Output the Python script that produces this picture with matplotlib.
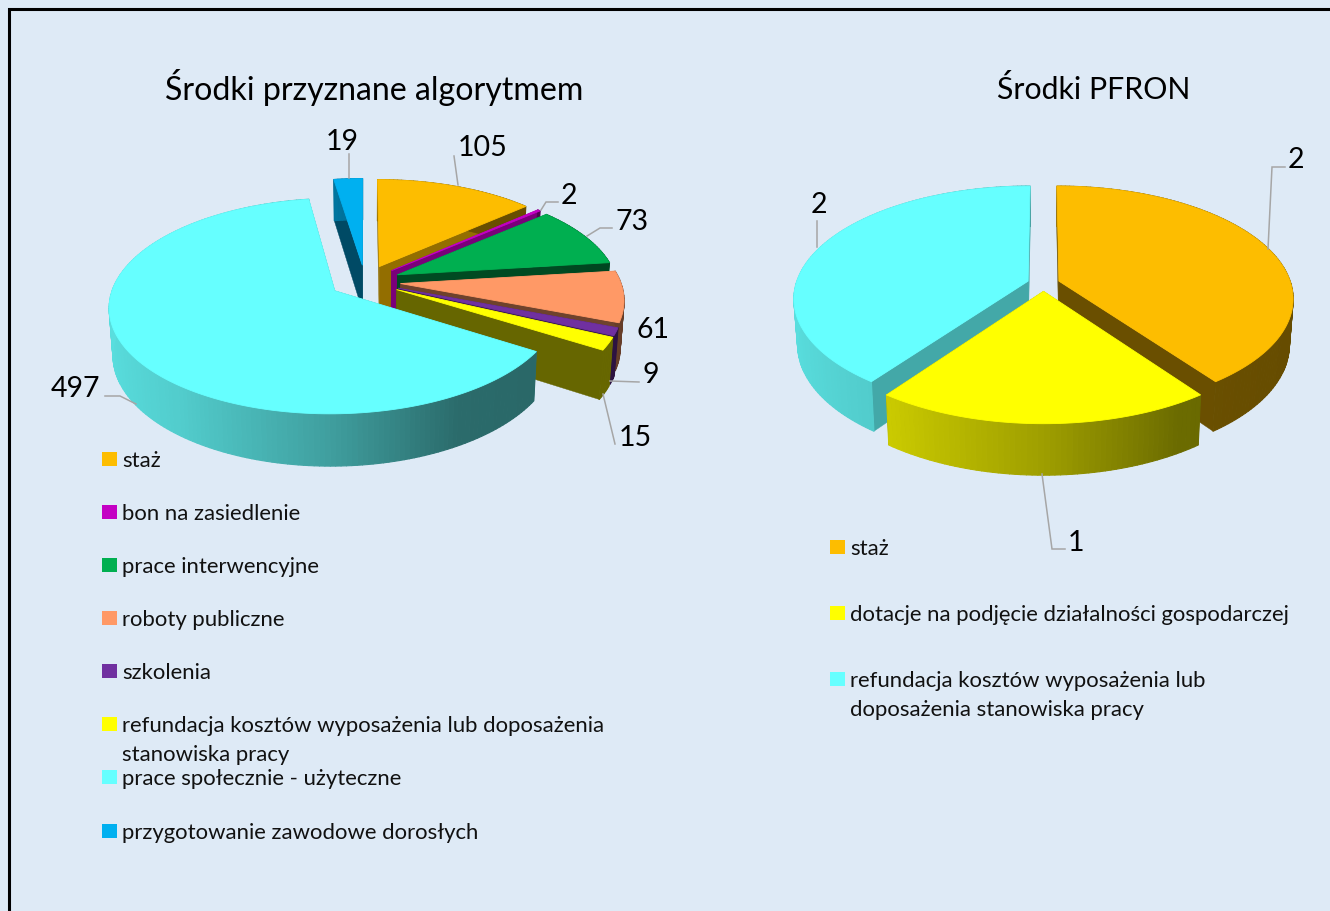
import numpy as np
import matplotlib
matplotlib.use("Agg")
import matplotlib.pyplot as plt
from matplotlib.collections import PolyCollection
from matplotlib.patches import Rectangle

plt.rcParams['font.family'] = ['Lato', 'DejaVu Sans']

BG = '#DEEAF6'
LEADER = '#A6A6A6'

# ---- data ----
left_title = 'Środki przyznane algorytmem'
left_categories = ['staż', 'bon na zasiedlenie', 'prace interwencyjne', 'roboty publiczne',
                   'szkolenia', 'refundacja kosztów wyposażenia lub doposażenia\nstanowiska pracy',
                   'prace społecznie - użyteczne', 'przygotowanie zawodowe dorosłych']
left_values = [105, 2, 73, 61, 9, 15, 497, 19]
left_colors = ['#FDBD00', '#C400C4', '#00AF50', '#FF9966', '#7030A0', '#FFFF00', '#66FFFF', '#00B0F0']
left_face_shade = [0.58, 0.62, 0.42, 0.43, 0.5, 0.4, 0.5, 0.42]

right_title = 'Środki PFRON'
right_categories = ['staż', 'dotacje na podjęcie działalności gospodarczej',
                    'refundacja kosztów wyposażenia lub\ndoposażenia stanowiska pracy']
right_values = [2, 1, 2]
right_colors = ['#FDBD00', '#FFFF00', '#66FFFF']
right_face_shade = [0.42, 0.4, 0.66]

# value label: text position and leader path, in figure pixels
left_labels = [((483, 148.5), [(454, 157), (458, 186)]),
               ((569, 196.5), [(541, 211), (546, 203), (558, 203)]),
               ((632, 222.5), [(587, 237), (600, 229), (612, 229)]),
               ((653, 330.5), None),
               ((651, 375.5), [(610, 382), (639, 383)]),
               ((635, 438.5), [(603, 395), (615, 445)]),
               ((75, 389.5), [(105, 397), (120, 397), (136, 405)]),
               ((342, 141.5), [(349, 155), (349, 179)])]
right_labels = [((1296, 160.5), [(1268, 250), (1272, 168), (1285, 168)]),
                ((1076, 543.5), [(1042, 475), (1052, 550), (1065, 550)]),
                ((819, 205.5), [(817, 248), (817, 222)])]

NUM_SIZE = 20.5
TITLE_SIZE = 23.1
TITLE2_SIZE = 21.8
LEG_SIZE = 15.9

fig = plt.figure(figsize=(13.3, 9.12), dpi=100, facecolor=BG)
ax = fig.add_axes([0, 0, 1, 1])
ax.set_xlim(0, 1330)
ax.set_ylim(912, 0)
ax.axis('off')


def shaded(color, s):
    r, g, b = matplotlib.colors.to_rgb(color)
    return (r * s, g * s, b * s)


def rim_shade(x):
    return np.interp(x, [-1, -0.6, 0, 0.5, 1], [0.87, 0.8, 0.62, 0.42, 0.4])


def draw_pie(values, colors, face_shade, cx, cy, R, ry, k, e, D):
    vals = np.asarray(values, float)
    edges = np.concatenate([[0], np.cumsum(vals)]) / vals.sum() * 2 * np.pi

    def proj(X, Y, z):
        f = 1 / (1 + k * Y)
        b = 1 - 0.015 * z
        return cx + R * X * f * b, cy + (-ry * Y * f * b + D * z * f)

    order = sorted(range(len(vals)), key=lambda i: -np.cos((edges[i] + edges[i + 1]) / 2))
    zo = 2
    for i in order:
        a0, a1 = edges[i], edges[i + 1]
        mid = (a0 + a1) / 2
        ox, oy = e * np.sin(mid), e * np.cos(mid)
        n = max(2, int((a1 - a0) / np.radians(1.2)))
        th = np.linspace(a0, a1, n + 1)
        rx_, ry_ = ox + np.sin(th), oy + np.cos(th)
        col = colors[i]
        dark = shaded(col, face_shade[i])
        # radial faces
        for ang in (a0, a1):
            X = ox + np.sin(ang)
            Y = oy + np.cos(ang)
            pts = [proj(ox, oy, 0), proj(X, Y, 0), proj(X, Y, 1), proj(ox, oy, 1)]
            ax.fill(*zip(*pts), color=dark, lw=0.3, zorder=zo)
        # rim, with a gradient
        polys, cols = [], []
        for j in range(n):
            polys.append([proj(rx_[j], ry_[j], 0), proj(rx_[j + 1], ry_[j + 1], 0),
                          proj(rx_[j + 1], ry_[j + 1], 1), proj(rx_[j], ry_[j], 1)])
            cols.append(shaded(col, rim_shade(np.sin((th[j] + th[j + 1]) / 2))))
        ax.add_collection(PolyCollection(polys, facecolors=cols, edgecolors=cols,
                                         linewidths=0.8, zorder=zo + 0.1))
        # top
        top = [proj(ox, oy, 0)] + [proj(x, y, 0) for x, y in zip(rx_, ry_)]
        ax.fill(*zip(*top), color=col, lw=0.6, zorder=zo + 0.2)
        zo += 1


def draw_labels(values, labels):
    for v, ((tx, ty), path) in zip(values, labels):
        if path:
            ax.plot(*zip(*path), color=LEADER, lw=1.1, zorder=30, solid_joinstyle='miter')
        ax.text(tx, ty, str(v), fontsize=NUM_SIZE, ha='center', va='center', color='black', zorder=31)


def draw_legend(cats, colors, x, ys):
    for c, col, y in zip(cats, colors, ys):
        ax.add_patch(Rectangle((x, y - 7), 15, 14, facecolor=col, edgecolor='none', zorder=32))
        parts = c.split('\n')
        ax.text(x + 20, y + 1.5, parts[0], fontsize=LEG_SIZE, va='center', ha='left', color='#111111', zorder=33)
        if len(parts) > 1:
            ax.text(x + 20, y + 30.5, parts[1], fontsize=LEG_SIZE, va='center', ha='left', color='#111111', zorder=33)


draw_pie(left_values, left_colors, left_face_shade, 365, 282.5, 220, 103, 0.14, 0.162, 46)
draw_pie(right_values, right_colors, right_face_shade, 1043.5, 284.5, 232, 110, 0.15, 0.07, 45)
draw_labels(left_values, left_labels)
draw_labels(right_values, right_labels)
draw_legend(left_categories, left_colors, 102, [460, 513, 566, 619, 672, 725, 778, 832])
draw_legend(right_categories, right_colors, 830, [548, 614, 680])

ax.text(374.5, 99.5, left_title, fontsize=TITLE_SIZE, ha='center', va='baseline', color='black')
ax.text(1094, 99, right_title, fontsize=TITLE2_SIZE, ha='center', va='baseline', color='black')

# outer frame
ax.plot([1330, 8.5, 8.5], [10, 10, 912], color='black', lw=2.2, zorder=40, solid_joinstyle='miter')

fig.savefig('out.png', dpi=100, facecolor=BG)
